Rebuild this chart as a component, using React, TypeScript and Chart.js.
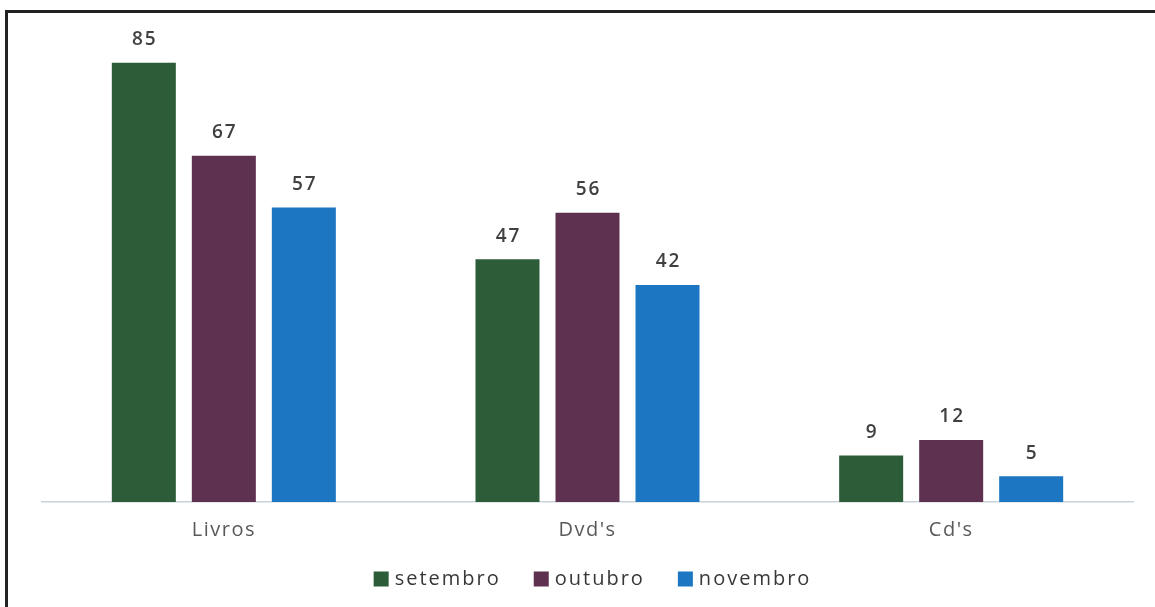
import React, { useEffect, useRef } from "react";
import { Chart, registerables } from "chart.js";

Chart.register(...registerables);

const categories = ["Livros", "Dvd's", "Cd's"];
const seriesNames = ["setembro", "outubro", "novembro"];
const setembro = [85, 47, 9];
const outubro = [67, 56, 12];
const novembro = [57, 42, 5];
const seriesColors = ["#2D5C39", "#5E3150", "#1C76C1"];

const FONT = "'Open Sans', 'DejaVu Sans', sans-serif";

const spacingPlugin = {
  id: "spacing",
  beforeDraw(chart: any) {
    chart.ctx.letterSpacing = "1.5px";
  },
};

const valueLabels = {
  id: "valueLabels",
  afterDatasetsDraw(chart: any) {
    const ctx = chart.ctx;
    ctx.save();
    ctx.letterSpacing = "2px";
    ctx.font = `600 19px ${FONT}`;
    ctx.fillStyle = "#404040";
    ctx.textAlign = "center";
    ctx.textBaseline = "middle";
    chart.data.datasets.forEach((ds: any, i: number) => {
      const meta = chart.getDatasetMeta(i);
      meta.data.forEach((el: any, j: number) => {
        ctx.fillText(String(ds.data[j]), el.x + 1, el.y - 23);
      });
    });
    ctx.restore();
  },
};

const customLegend = {
  id: "customLegend",
  afterDraw(chart: any) {
    const ctx = chart.ctx;
    ctx.save();
    ctx.letterSpacing = "2px";
    ctx.font = `20px ${FONT}`;
    ctx.textBaseline = "middle";
    ctx.textAlign = "left";
    const box = 15;
    const gapText = 6;
    const gapItem = 33;
    const items = chart.data.datasets.map((ds: any) => ({
      label: ds.label,
      color: ds.backgroundColor,
      w: ctx.measureText(ds.label).width,
    }));
    const total = items.reduce((s: number, it: any) => s + box + gapText + it.w, 0) + gapItem * (items.length - 1);
    const area = chart.chartArea;
    let x = (area.left + area.right) / 2 + 5 - total / 2;
    const y = 579;
    items.forEach((it: any) => {
      ctx.fillStyle = it.color;
      ctx.fillRect(x, y - box / 2, box, box);
      x += box + gapText;
      ctx.fillStyle = "#383838";
      ctx.fillText(it.label, x, y);
      x += it.w + gapItem;
    });
    ctx.restore();
  },
};

export default function App() {
  const ref = useRef<HTMLCanvasElement | null>(null);

  useEffect(() => {
    if (!ref.current) return;
    const values = [setembro, outubro, novembro];
    const chart = new Chart(ref.current, {
      type: "bar",
      data: {
        labels: categories,
        datasets: seriesNames.map((name, i) => ({
          label: name,
          data: values[i],
          backgroundColor: seriesColors[i],
          borderWidth: 0,
          categoryPercentage: 0.66,
          barPercentage: 0.8,
        })),
      },
      options: {
        animation: false,
        responsive: false,
        layout: { padding: { left: 42, right: 22, top: 37, bottom: 49 } },
        plugins: {
          legend: { display: false },
          tooltip: { enabled: false },
        },
        scales: {
          x: {
            grid: { display: false, drawTicks: false },
            border: { display: true, color: "#C9D3DB", width: 1.5 },
            ticks: {
              padding: 16,
              color: "#595959",
              font: { family: FONT, size: 20 },
            },
          },
          y: {
            display: false,
            min: 0,
            max: 90,
          },
        },
      },
      plugins: [spacingPlugin, valueLabels, customLegend],
    });
    return () => chart.destroy();
  }, []);

  return (
    <div>
      <canvas
        ref={ref}
        width={1155}
        height={607}
        style={{ position: "absolute", left: 0, top: 0, width: 1155, height: 607, background: "#fff" }}
      />
      <div
        style={{
          position: "absolute",
          left: 5,
          top: 10,
          right: 0,
          bottom: 0,
          borderLeft: "3px solid #222",
          borderTop: "3px solid #222",
          pointerEvents: "none",
        }}
      />
    </div>
  );
}
